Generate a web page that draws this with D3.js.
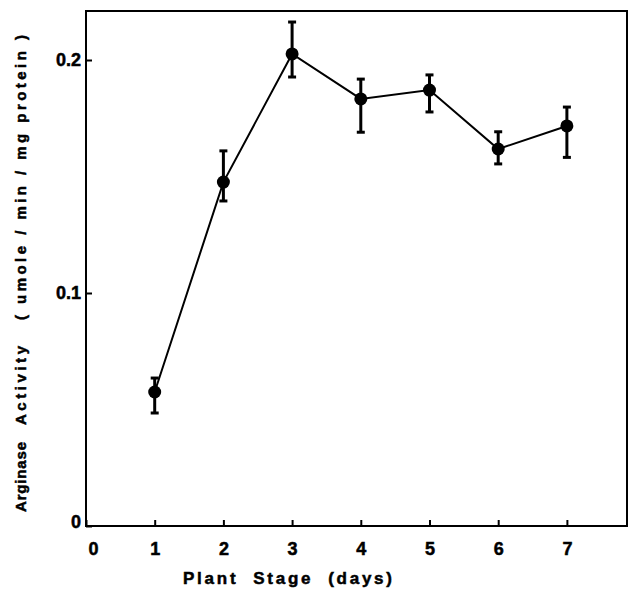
<!DOCTYPE html>
<html>
<head>
<meta charset="utf-8">
<script src="https://cdn.jsdelivr.net/npm/d3@7"></script>
<style>
body{margin:0;background:#fff;}
text{font-family:"Liberation Sans",Arial,sans-serif;font-weight:bold;fill:#000;stroke:#000;stroke-width:0.5px;}
</style>
</head>
<body>
<svg id="chart" width="628" height="602"></svg>
<script>
// data
var stages = [1, 2, 3, 4, 5, 6, 7];
var activity = [0.0575, 0.1476, 0.2026, 0.1833, 0.1871, 0.1618, 0.1717];
var errLow = [0.0485, 0.1395, 0.1927, 0.169, 0.1777, 0.1554, 0.1582];
var errHigh = [0.0635, 0.161, 0.2163, 0.1918, 0.1936, 0.1692, 0.1798];
var xTicks = [0, 1, 2, 3, 4, 5, 6, 7];
var yTicks = [0, 0.1, 0.2];
var yTickLabels = ['0', '0.1', '0.2'];

var svg = d3.select('#chart');
var mLeft = 86, mRight = 627, mTop = 11, mBottom = 526;

var x = d3.scaleLinear().domain([0, 7.875]).range([mLeft, mRight]);
var y = d3.scaleLinear().domain([0, 0.1]).range([mBottom, 293]);

// frame
svg.append('path')
    .attr('d', 'M' + mLeft + ',' + mTop + 'H' + mRight + 'V' + mBottom + 'H' + mLeft + 'Z')
    .style('fill', 'none')
    .style('stroke', '#000')
    .style('stroke-width', 2);

// x axis, ticks pointing in
var xAxis = d3.axisBottom(x).tickValues(xTicks).tickSizeInner(-6).tickSizeOuter(0).tickFormat(d3.format('d'));
var gx = svg.append('g').attr('transform', 'translate(0,' + mBottom + ')').call(xAxis);
gx.select('.domain').remove();
gx.selectAll('.tick line').style('stroke', '#000').style('stroke-width', 2);
gx.selectAll('.tick text')
    .attr('y', 16)
    .attr('dy', '0.71em')
    .style('font-size', '18px')
    .attr('dx', function (d) { return d === 0 ? 7 : 0; });

// y axis, ticks pointing in
var yAxis = d3.axisLeft(y).tickValues(yTicks).tickSizeInner(-6).tickSizeOuter(0)
    .tickFormat(function (d, i) { return yTickLabels[i]; });
var gy = svg.append('g').attr('transform', 'translate(' + mLeft + ',0)').call(yAxis);
gy.select('.domain').remove();
gy.selectAll('.tick line').style('stroke', '#000').style('stroke-width', 2);
gy.selectAll('.tick text')
    .attr('x', -5)
    .style('font-size', '18px')
    .attr('dy', function (d) { return d === 0 ? '0.1em' : '0.32em'; });

// connecting line
var line = d3.line()
    .x(function (d, i) { return x(stages[i]); })
    .y(function (d) { return y(d); });
svg.append('path')
    .datum(activity)
    .attr('d', line)
    .style('fill', 'none')
    .style('stroke', '#000')
    .style('stroke-width', 2);

// error bars
var eb = svg.append('g').selectAll('g').data(stages).enter().append('g');
eb.append('line')
    .attr('x1', function (d) { return x(d); })
    .attr('x2', function (d) { return x(d); })
    .attr('y1', function (d, i) { return y(errLow[i]); })
    .attr('y2', function (d, i) { return y(errHigh[i]); })
    .style('stroke', '#000').style('stroke-width', 3);
[errLow, errHigh].forEach(function (arr) {
    eb.append('line')
        .attr('x1', function (d) { return x(d) - 4; })
        .attr('x2', function (d) { return x(d) + 4; })
        .attr('y1', function (d, i) { return y(arr[i]); })
        .attr('y2', function (d, i) { return y(arr[i]); })
        .style('stroke', '#000').style('stroke-width', 3);
});

// markers
svg.append('g').selectAll('circle').data(activity).enter().append('circle')
    .attr('cx', function (d, i) { return x(stages[i]); })
    .attr('cy', function (d) { return y(d); })
    .attr('r', 6.5)
    .style('fill', '#000');

// axis titles
svg.append('text')
    .attr('x', 183)
    .attr('y', 584)
    .attr('textLength', 209)
    .attr('lengthAdjust', 'spacing')
    .style('font-size', '17px')
    .style('white-space', 'pre')
    .text('Plant  Stage  (days)');

// y title in three pieces: [text, start y, end y]
var yTitle = [['Arginase', 512, 442], ['Activity', 425, 346], ['( umole / min / mg protein )', 320, 35]];
svg.append('g').selectAll('text').data(yTitle).enter().append('text')
    .attr('transform', function (d) { return 'translate(26,' + d[1] + ') rotate(-90)'; })
    .attr('textLength', function (d) { return d[1] - d[2]; })
    .attr('lengthAdjust', 'spacing')
    .style('font-size', '15px')
    .style('white-space', 'pre')
    .text(function (d) { return d[0]; });
</script>
</body>
</html>
